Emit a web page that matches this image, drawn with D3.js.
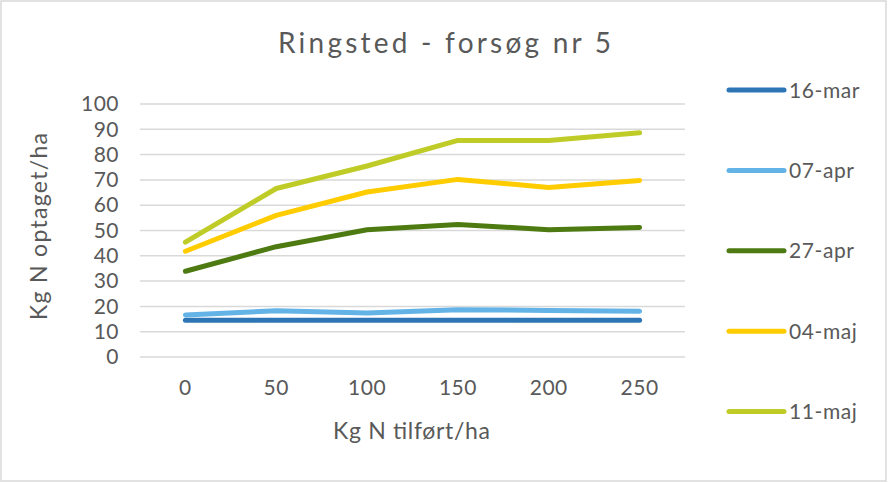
<!DOCTYPE html>
<html>
<head>
<meta charset="utf-8">
<script src="https://cdn.jsdelivr.net/npm/d3@7"></script>
<style>
  body { margin: 0; background: #fff; }
  text { font-family: Lato, "Open Sans", sans-serif; fill: #595959; }
</style>
</head>
<body>
<svg id="chart" width="888" height="483"></svg>
<script>
// data
var doses = ['0', '50', '100', '150', '200', '250'];
var seriesNames = ['16-mar', '07-apr', '27-apr', '04-maj', '11-maj'];
var mar16 = [14.5, 14.5, 14.5, 14.5, 14.5, 14.5];
var apr07 = [16.6, 18.3, 17.4, 18.7, 18.4, 18.1];
var apr27 = [33.9, 43.6, 50.3, 52.4, 50.3, 51.2];
var maj04 = [41.8, 56.0, 65.2, 70.2, 67.0, 69.8];
var maj11 = [45.4, 66.6, 75.5, 85.6, 85.6, 88.6];
var yTicks = [0, 10, 20, 30, 40, 50, 60, 70, 80, 90, 100];

var colors = ['#2e75b6', '#63b3e6', '#4e7a12', '#ffcc00', '#bfcc28'];

var drawChart = function () {

    var svg = d3.select('#chart'),
        width = +svg.attr('width'),
        height = +svg.attr('height'),
        margin = {left: 140, right: 203, top: 104, bottom: 126},
        seriesValues = [mar16, apr07, apr27, maj04, maj11];

    // chart border
    svg.append('rect')
        .attr('x', 1)
        .attr('y', 1)
        .attr('width', width - 3)
        .attr('height', height - 3)
        .attr('fill', '#fff')
        .attr('stroke', '#d9d9d9')
        .attr('stroke-width', 1.5);

    var x = d3.scaleBand()
        .domain(doses)
        .range([margin.left, width - margin.right]);

    var y = d3.scaleLinear()
        .domain([0, 100])
        .range([height - margin.bottom, margin.top]);

    // gridlines
    svg.append('g')
        .selectAll('line')
        .data(yTicks)
        .enter().append('line')
        .attr('x1', margin.left)
        .attr('x2', width - margin.right)
        .attr('y1', function (d) { return y(d); })
        .attr('y2', function (d) { return y(d); })
        .attr('stroke', '#d9d9d9')
        .attr('stroke-width', 1.5);

    var yAxis = svg.append('g')
        .attr('transform', 'translate(' + (margin.left - 21) + ',0)')
        .call(d3.axisLeft(y).tickValues(yTicks).tickSize(0).tickPadding(0));
    yAxis.select('.domain').remove();
    yAxis.selectAll('text')
        .attr('font-size', 21)
        .attr('font-family', null)
        .attr('fill', null)
        .attr('letter-spacing', 0.5);

    var xAxis = svg.append('g')
        .attr('transform', 'translate(0,' + (height - margin.bottom + 23) + ')')
        .call(d3.axisBottom(x).tickSize(0).tickPadding(0));
    xAxis.select('.domain').remove();
    xAxis.selectAll('text')
        .attr('font-size', 21)
        .attr('font-family', null)
        .attr('fill', null)
        .attr('letter-spacing', 0.5)
        .attr('dy', '0.71em');

    var line = d3.line()
        .x(function (d, i) { return x(doses[i]) + x.bandwidth() / 2; })
        .y(function (d) { return y(d); });

    svg.append('g')
        .selectAll('path')
        .data(seriesValues)
        .enter().append('path')
        .attr('d', line)
        .attr('fill', 'none')
        .attr('stroke', function (d, i) { return colors[i]; })
        .attr('stroke-width', 5)
        .attr('stroke-linecap', 'round')
        .attr('stroke-linejoin', 'round');

    // title and axis titles
    svg.append('text')
        .attr('x', 278)
        .attr('y', 53)
        .attr('font-size', 28)
        .attr('textLength', 333)
        .attr('lengthAdjust', 'spacing')
        .text('Ringsted - forsøg nr 5');

    svg.append('text')
        .attr('x', 333)
        .attr('y', 439)
        .attr('font-size', 23)
        .attr('textLength', 157)
        .attr('lengthAdjust', 'spacing')
        .text('Kg N tilført/ha');

    svg.append('text')
        .attr('transform', 'translate(47,320) rotate(-90)')
        .attr('font-size', 23)
        .attr('textLength', 187)
        .attr('lengthAdjust', 'spacing')
        .text('Kg N optaget/ha');

    // legend
    var legend = svg.selectAll('.legend')
        .data(seriesNames)
        .enter().append('g')
        .attr('class', 'legend')
        .attr('transform', function (d, i) {
            return 'translate(729,' + (90 + i * 80.4) + ')';
        });

    legend.append('line')
        .attr('x1', 0)
        .attr('x2', 55)
        .attr('stroke', function (d, i) { return colors[i]; })
        .attr('stroke-width', 5)
        .attr('stroke-linecap', 'round');

    legend.append('text')
        .attr('x', 60)
        .attr('y', 7.5)
        .attr('font-size', 21)
        .attr('letter-spacing', 0.6)
        .text(function (d) { return d; });

};

drawChart();
</script>
</body>
</html>
